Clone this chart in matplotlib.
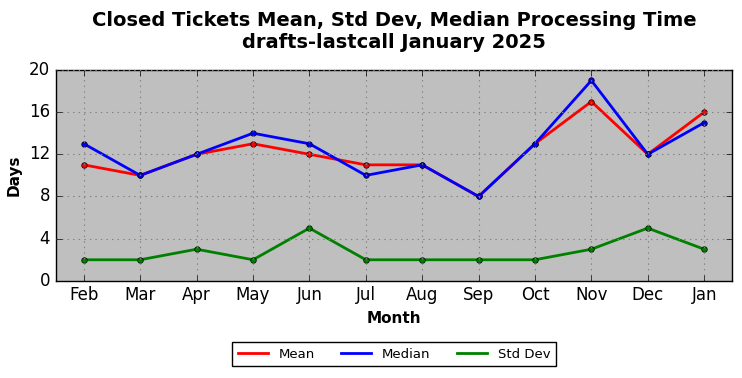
import matplotlib
matplotlib.use("Agg")
import matplotlib.pyplot as plt

plt.style.use('classic')

months = ['Feb', 'Mar', 'Apr', 'May', 'Jun', 'Jul', 'Aug', 'Sep', 'Oct', 'Nov', 'Dec', 'Jan']
mean_days = [11, 10, 12, 13, 12, 11, 11, 8, 13, 17, 12, 16]
median_days = [13, 10, 12, 14, 13, 10, 11, 8, 13, 19, 12, 15]
std_days = [2, 2, 3, 2, 5, 2, 2, 2, 2, 3, 5, 3]

fig = plt.figure(figsize=(7.42, 3.78), dpi=100, facecolor='white')
ax = fig.add_axes([0.075, 0.257, 0.912, 0.558])
ax.set_facecolor('#bfbfbf')

x = list(range(len(months)))
ax.plot(x, mean_days, color='red', lw=2, marker='o', ms=4, label='Mean')
ax.plot(x, median_days, color='blue', lw=2, marker='o', ms=4, label='Median')
ax.plot(x, std_days, color='green', lw=2, marker='o', ms=4, label='Std Dev')

ax.set_xlim(-0.5, len(months) - 0.5)
ax.set_ylim(0, 20)
ax.set_yticks([0, 4, 8, 12, 16, 20])
ax.set_xticks(x)
ax.set_xticklabels(months)
ax.grid(True, color='#808080', linestyle=':', linewidth=0.8)

ax.set_xlabel('Month', fontsize=11, fontweight='bold')
ax.set_ylabel('Days', fontsize=11, fontweight='bold')
ax.set_title('Closed Tickets Mean, Std Dev, Median Processing Time\ndrafts-lastcall January 2025',
             fontsize=14, fontweight='bold', pad=16)

ax.legend(loc='upper center', bbox_to_anchor=(0.5, -0.26), ncol=3, fontsize=9.5,
          frameon=True, fancybox=False, numpoints=1, handlelength=2.3)
leg = ax.get_legend()
for h in leg.legend_handles:
    h.set_marker('')

fig.savefig('out.png', dpi=100, facecolor='white')
